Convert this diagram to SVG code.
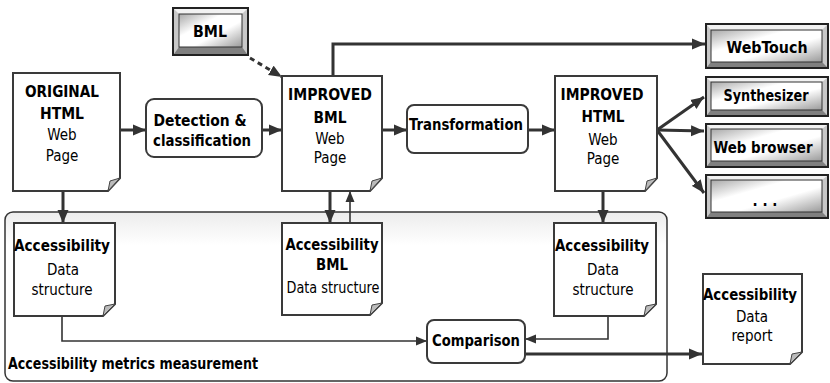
<svg xmlns="http://www.w3.org/2000/svg" width="830" height="383" viewBox="0 0 830 383">
<defs>
<style>
.doc{fill:#fff;stroke:#3a3a3a;stroke-width:2}
.fold{fill:#bbb;stroke:#444;stroke-width:1}
.proc{fill:#fff;stroke:#3a3a3a;stroke-width:2}
.b{font-family:"DejaVu Sans Condensed","DejaVu Sans",sans-serif;font-weight:bold;font-size:15px;fill:#000;text-anchor:middle}
.r{font-family:"DejaVu Sans Condensed","DejaVu Sans",sans-serif;font-size:15px;fill:#000;text-anchor:middle}
.c{fill:none;stroke:#333;stroke-width:3}
.t{fill:none;stroke:#333;stroke-width:1.6}
.btnout{fill:#c8c8c8;stroke:#222;stroke-width:2}
.btnin{fill:url(#bg);stroke:#333;stroke-width:1}
.hl{fill:#f2f2f2}
.sh{fill:#808080}
</style>
<linearGradient id="bg" x1="0" y1="0" x2="1" y2="1">
<stop offset="0" stop-color="#a8a8a8"/>
<stop offset="0.35" stop-color="#ffffff"/>
<stop offset="0.6" stop-color="#ffffff"/>
<stop offset="1" stop-color="#9a9a9a"/>
</linearGradient>
<linearGradient id="cg" x1="0" y1="0" x2="0" y2="1">
<stop offset="0" stop-color="#ececec"/>
<stop offset="0.2" stop-color="#ffffff"/>
<stop offset="1" stop-color="#ffffff"/>
</linearGradient>
<marker id="ah" markerUnits="userSpaceOnUse" markerWidth="13" markerHeight="12" viewBox="0 0 13 12" refX="13" refY="6" orient="auto">
<path d="M0,0.5 L13,6 L0,11.5 z" fill="#333"/>
</marker>
<marker id="ahs" markerUnits="userSpaceOnUse" markerWidth="11" markerHeight="10" viewBox="0 0 11 10" refX="11" refY="5" orient="auto">
<path d="M0,0.5 L11,5 L0,9.5 z" fill="#333"/>
</marker>
</defs>
<rect width="830" height="383" fill="#fff"/>

<g id="container">
<rect x="5" y="212" width="662" height="169" rx="8" fill="url(#cg)" stroke="#333" stroke-width="1.5"/>
<text class="b" x="8" y="369" style="text-anchor:start" textLength="250" lengthAdjust="spacingAndGlyphs">Accessibility metrics measurement</text>
</g>

<g id="connectors">
<line class="c" x1="120" y1="130" x2="146" y2="130" marker-end="url(#ah)"/>
<line class="c" x1="262" y1="130" x2="282" y2="130" marker-end="url(#ah)"/>
<line class="c" x1="250" y1="58" x2="282" y2="77" stroke-dasharray="5 4" marker-end="url(#ah)"/>
<polyline class="c" points="333,76 333,44 705,44" marker-end="url(#ah)"/>
<line class="c" x1="382" y1="130" x2="407" y2="130" marker-end="url(#ah)"/>
<line class="c" x1="528" y1="130" x2="555" y2="130" marker-end="url(#ah)"/>
<line class="c" x1="657" y1="130" x2="704" y2="97" marker-end="url(#ah)"/>
<line class="c" x1="657" y1="130" x2="704" y2="131" marker-end="url(#ah)"/>
<line class="c" x1="657" y1="130" x2="704" y2="193" marker-end="url(#ah)"/>
<line class="c" x1="63" y1="191" x2="63" y2="223" marker-end="url(#ah)"/>
<line class="c" x1="330" y1="191" x2="330" y2="223" marker-end="url(#ah)"/>
<line class="t" x1="350" y1="223" x2="350" y2="191" marker-end="url(#ahs)"/>
<line class="c" x1="603" y1="191" x2="603" y2="223" marker-end="url(#ah)"/>
<polyline class="t" points="62,316 62,341 427,341" marker-end="url(#ahs)"/>
<polyline class="t" points="608,316 608,339 525,339" marker-end="url(#ahs)"/>
<line class="c" x1="525" y1="354" x2="702" y2="354" marker-end="url(#ah)"/>
</g>

<g id="original">
<path class="doc" d="M13,73 H120 V178 L108,191 H13 Z"/>
<path class="fold" d="M120,178 L108,191 L110,181 Z"/>
<text class="b" x="62" y="97" textLength="74" lengthAdjust="spacingAndGlyphs">ORIGINAL</text>
<text class="b" x="62" y="119" textLength="44" lengthAdjust="spacingAndGlyphs">HTML</text>
<text class="r" x="62" y="140">Web</text>
<text class="r" x="62" y="161">Page</text>
</g>

<g id="detection">
<rect class="proc" x="146" y="99" width="116" height="58" rx="8"/>
<text class="b" x="200" y="126" textLength="93" lengthAdjust="spacingAndGlyphs">Detection &amp;</text>
<text class="b" x="202" y="146" textLength="98" lengthAdjust="spacingAndGlyphs">classification</text>
</g>

<g id="bml">
<rect class="btnout" x="173" y="8" width="75" height="47"/>
<polygon class="hl" points="174,9 247,9 242,14 179,14"/>
<polygon class="sh" points="174,54 247,54 242,47 179,47"/>
<rect class="btnin" x="179" y="14" width="63" height="33"/>
<text class="b" x="210" y="37" textLength="34" lengthAdjust="spacingAndGlyphs">BML</text>
</g>

<g id="improved-bml">
<path class="doc" d="M282,76 H382 V178 L370,191 H282 Z"/>
<path class="fold" d="M382,178 L370,191 L372,181 Z"/>
<text class="b" x="330" y="100" textLength="84" lengthAdjust="spacingAndGlyphs">IMPROVED</text>
<text class="b" x="330" y="123" textLength="33" lengthAdjust="spacingAndGlyphs">BML</text>
<text class="r" x="330" y="144">Web</text>
<text class="r" x="330" y="163">Page</text>
</g>

<g id="transformation">
<rect class="proc" x="407" y="105" width="121" height="48" rx="7"/>
<text class="b" x="466" y="130" textLength="114" lengthAdjust="spacingAndGlyphs">Transformation</text>
</g>

<g id="improved-html">
<path class="doc" d="M555,76 H657 V178 L645,191 H555 Z"/>
<path class="fold" d="M657,178 L645,191 L647,181 Z"/>
<text class="b" x="602" y="100" textLength="83" lengthAdjust="spacingAndGlyphs">IMPROVED</text>
<text class="b" x="603" y="122" textLength="43" lengthAdjust="spacingAndGlyphs">HTML</text>
<text class="r" x="603" y="145">Web</text>
<text class="r" x="603" y="164">Page</text>
</g>

<g id="webtouch">
<rect class="btnout" x="706" y="24" width="122" height="44"/>
<polygon class="hl" points="707,25 827,25 822,30 711,30"/>
<polygon class="sh" points="707,67 827,67 822,62 711,62"/>
<rect class="btnin" x="711" y="30" width="111" height="32"/>
<text class="b" x="767" y="53" textLength="81" lengthAdjust="spacingAndGlyphs">WebTouch</text>
</g>

<g id="synthesizer">
<rect class="btnout" x="706" y="77" width="122" height="39"/>
<polygon class="hl" points="707,78 827,78 822,82 711,82"/>
<polygon class="sh" points="707,115 827,115 822,110 711,110"/>
<rect class="btnin" x="711" y="82" width="111" height="28"/>
<text class="b" x="766" y="101" textLength="85" lengthAdjust="spacingAndGlyphs">Synthesizer</text>
</g>

<g id="webbrowser">
<rect class="btnout" x="706" y="124" width="122" height="43"/>
<polygon class="hl" points="707,125 827,125 822,129 711,129"/>
<polygon class="sh" points="707,166 827,166 822,161 711,161"/>
<rect class="btnin" x="711" y="129" width="111" height="32"/>
<text class="b" x="763" y="153" textLength="99" lengthAdjust="spacingAndGlyphs">Web browser</text>
</g>

<g id="more">
<rect class="btnout" x="706" y="175" width="122" height="43"/>
<polygon class="hl" points="707,176 827,176 822,180 711,180"/>
<polygon class="sh" points="707,217 827,217 822,212 711,212"/>
<rect class="btnin" x="711" y="180" width="111" height="32"/>
<text class="b" x="765" y="206">. . .</text>
</g>

<g id="acc-original">
<path class="doc" d="M14,223 H115 V304 L103,316 H14 Z"/>
<path class="fold" d="M115,304 L103,316 L105,306 Z"/>
<text class="b" x="62" y="251" textLength="96" lengthAdjust="spacingAndGlyphs">Accessibility</text>
<text class="r" x="63" y="275">Data</text>
<text class="r" x="62" y="295">structure</text>
</g>

<g id="acc-bml">
<path class="doc" d="M282,223 H382 V303 L370,315 H282 Z"/>
<path class="fold" d="M382,303 L370,315 L372,305 Z"/>
<text class="b" x="332" y="250" textLength="93" lengthAdjust="spacingAndGlyphs">Accessibility</text>
<text class="b" x="332" y="270" textLength="32" lengthAdjust="spacingAndGlyphs">BML</text>
<text class="r" x="333" y="293" textLength="93" lengthAdjust="spacingAndGlyphs">Data structure</text>
</g>

<g id="acc-improved">
<path class="doc" d="M554,223 H656 V304 L644,316 H554 Z"/>
<path class="fold" d="M656,304 L644,316 L646,306 Z"/>
<text class="b" x="602" y="251" textLength="94" lengthAdjust="spacingAndGlyphs">Accessibility</text>
<text class="r" x="603" y="275">Data</text>
<text class="r" x="603" y="295">structure</text>
</g>

<g id="comparison">
<rect class="proc" x="427" y="320" width="98" height="43" rx="7"/>
<text class="b" x="476" y="346" textLength="88" lengthAdjust="spacingAndGlyphs">Comparison</text>
</g>

<g id="report">
<path class="doc" d="M703,274 H802 V352 L790,364 H703 Z"/>
<path class="fold" d="M802,352 L790,364 L792,354 Z"/>
<text class="b" x="750" y="300" textLength="94" lengthAdjust="spacingAndGlyphs">Accessibility</text>
<text class="r" x="752" y="322">Data</text>
<text class="r" x="752" y="341">report</text>
</g>
</svg>
